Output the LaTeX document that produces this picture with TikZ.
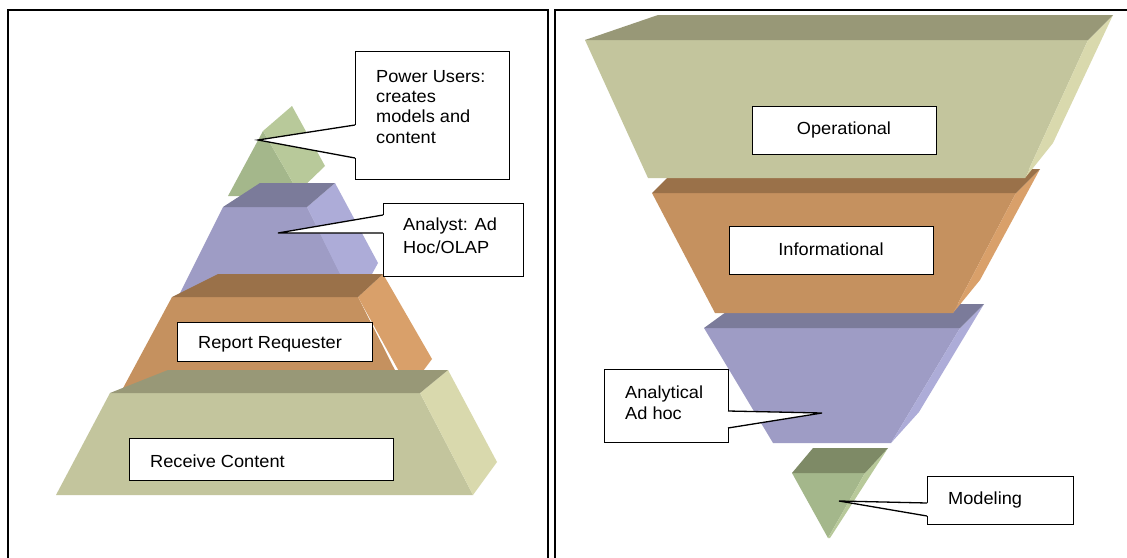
\documentclass[tikz,border=0pt]{standalone}
\usepackage{fontspec}
\setmainfont{Liberation Sans}[FakeStretch=1.04]
\definecolor{gfront}{HTML}{C3C59D}
\definecolor{gtop}{HTML}{989877}
\definecolor{gside}{HTML}{D9D9AD}
\definecolor{ofront}{HTML}{C5915F}
\definecolor{otop}{HTML}{9A7149}
\definecolor{oside}{HTML}{D9A06A}
\definecolor{pfront}{HTML}{9E9CC5}
\definecolor{ptop}{HTML}{7B7B9A}
\definecolor{pside}{HTML}{ADACD8}
\definecolor{sfront}{HTML}{A4B78B}
\definecolor{sside}{HTML}{B8C99A}
\definecolor{stop}{HTML}{7E8A66}
\begin{document}
\begin{tikzpicture}[x=1pt,y=-1pt,
  frame/.style={draw=black,line width=1.5pt},
  callbox/.style={draw=black,fill=white,line width=1.3pt,anchor=north west,inner sep=0pt},
  lbl/.style={font=\fontsize{17.5}{21}\selectfont,inner sep=0pt,anchor=base west},
  clbl/.style={font=\fontsize{17.5}{21}\selectfont,inner sep=0pt,anchor=base},
  wedge/.style={draw=black,line width=1.3pt,line join=miter}]
\useasboundingbox (0,0) rectangle (1127,557);
\clip (0,0) rectangle (1127,557);
\fill[white] (0,0) rectangle (1127,557);
% frames
\draw[frame] (8,600) -- (8,10) -- (548,10) -- (548,600);
\draw[frame] (555,600) -- (555,10) -- (1140,10);
% ---------- left pyramid ----------
% small green top
\fill[sfront] (263,131) -- (293,183) -- (298,196) -- (228,196) -- cycle;
\fill[sside] (263,131) -- (292,106) -- (325,166) -- (298,192) -- (293,183) -- cycle;
% purple
\fill[pfront] (223,207) -- (307,207) -- (352,297) -- (178,297) -- cycle;
\fill[pside] (307,207) -- (335,183) -- (378,263) -- (372,274) -- (340,274) -- cycle;
\fill[ptop] (223,207) -- (260,183) -- (335,183) -- (307,207) -- cycle;
% orange
\fill[ofront] (172,297) -- (358,297) -- (405,390) -- (122,390) -- cycle;
\fill[oside] (358,297) -- (383,274) -- (432,359) -- (420,375) -- (401,375) -- cycle;
\fill[otop] (172,297) -- (218,274) -- (383,274) -- (358,297) -- cycle;
% green base
\fill[gfront] (110,393) -- (420,393) -- (473,495) -- (56,495) -- cycle;
\fill[gside] (420,393) -- (448,370) -- (497,462) -- (473,495) -- cycle;
\fill[gtop] (110,393) -- (168,370) -- (448,370) -- (420,393) -- cycle;
% ---------- right inverted pyramid ----------
% modeling
\fill[sfront] (792,473) -- (865,473) -- (828,538) -- cycle;
\fill[sside] (865,473) -- (888,448) -- (830,538) -- (828,538) -- cycle;
\fill[stop] (792,473) -- (813,448) -- (888,448) -- (865,473) -- cycle;
% analytical
\fill[pfront] (704,328) -- (960,328) -- (891,443) -- (773,443) -- cycle;
\fill[pside] (960,328) -- (984,304) -- (919,412) -- (891,443) -- cycle;
\fill[ptop] (704,328) -- (737,304) -- (984,304) -- (960,328) -- cycle;
% informational
\fill[ofront] (652,193) -- (1016,193) -- (953,313) -- (715,313) -- cycle;
\fill[oside] (1016,193) -- (1040,169) -- (980,280) -- (953,313) -- cycle;
\fill[otop] (652,193) -- (676,169) -- (1040,169) -- (1016,193) -- cycle;
% operational
\fill[gfront] (585,40) -- (1088,40) -- (1025,178) -- (648,178) -- cycle;
\fill[gside] (1088,40) -- (1113,15) -- (1053,143) -- (1025,178) -- cycle;
\fill[gtop] (585,40) -- (658,15) -- (1113,15) -- (1088,40) -- cycle;
% ---------- callouts and boxes (left) ----------
\node[callbox,minimum width=154pt,minimum height=128pt] (pu) at (355,51) {};
\coordinate (puA) at (355,125);
\coordinate (puB) at (355,158);
\coordinate (puT) at (258,140);
\fill[white] ([xshift=1.6pt]puA) -- (puT) -- ([xshift=1.6pt]puB) -- cycle;
\draw[wedge] (puA) -- (puT) -- (puB);
\node[lbl] (pu1) at (376,82) {Power Users:};
\node[lbl] (pu2) at (376,102) {creates};
\node[lbl] (pu3) at (376,122.5) {models and};
\node[lbl] (pu4) at (376,143) {content};

\node[callbox,minimum width=140pt,minimum height=73pt] (an) at (383,203) {};
\coordinate (anA) at (383,215);
\coordinate (anB) at (383,233);
\coordinate (anT) at (278,233);
\fill[white] ([xshift=1.6pt]anA) -- (anT) -- ([xshift=1.6pt]anB) -- cycle;
\draw[wedge] (anA) -- (anT) -- (anB);
\node[lbl] (an1) at (403,230.5) {Analyst: Ad};
\node[lbl] (an2) at (403,253) {Hoc/OLAP};

\node[callbox,minimum width=195pt,minimum height=39pt] (rr) at (177,322) {};
\begin{scope}
\clip (177,322) rectangle (372,351);
\node[lbl] (rrt) at (198,348.5) {Report Requester};
\end{scope}

\node[callbox,minimum width=264pt,minimum height=42pt] (rc) at (129,438) {};
\node[lbl] (rct) at (150,467) {Receive Content};

% ---------- callouts and boxes (right) ----------
\node[callbox,minimum width=184pt,minimum height=48pt] (op) at (752,106) {};
\node[clbl] (opt) at (844,134) {Operational};

\node[callbox,minimum width=204pt,minimum height=48pt] (inf) at (729,226) {};
\node[clbl] (inft) at (831,255) {Informational};

\node[callbox,minimum width=124pt,minimum height=73pt] (al) at (604,369) {};
\coordinate (alA) at (728,411);
\coordinate (alB) at (728,428);
\coordinate (alT) at (822,413);
\fill[white] ([xshift=-1.6pt]alA) -- (alT) -- ([xshift=-1.6pt]alB) -- cycle;
\draw[wedge] (alA) -- (alT) -- (alB);
\node[lbl] (al1) at (625,398) {Analytical};
\node[lbl] (al2) at (625,419) {Ad hoc};

\node[callbox,minimum width=146pt,minimum height=48pt] (mo) at (927,476) {};
\coordinate (moA) at (927,503);
\coordinate (moB) at (927,516);
\coordinate (moT) at (839,501);
\fill[white] ([xshift=1.6pt]moA) -- (moT) -- ([xshift=1.6pt]moB) -- cycle;
\draw[wedge] (moA) -- (moT) -- (moB);
\node[lbl] (mot) at (948,504) {Modeling};
\end{tikzpicture}
\end{document}
